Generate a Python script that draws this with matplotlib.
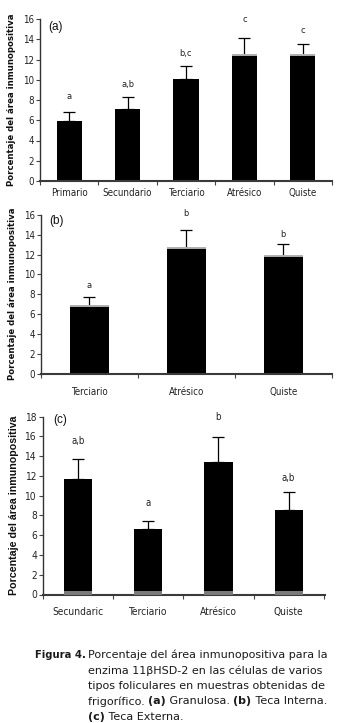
import matplotlib
matplotlib.use("Agg")
import matplotlib.pyplot as plt
from matplotlib import font_manager

# ---------------- data ----------------
cats_a = ["Primario", "Secundario", "Terciario", "Atrésico", "Quiste"]
vals_a = [5.9, 7.15, 10.1, 12.4, 12.4]
err_a = [0.9, 1.15, 1.3, 1.7, 1.1]
sig_a = ["a", "a,b", "b,c", "c", "c"]
sig_pos_a = [8.3, 9.5, 12.6, 16.0, 14.9]

cats_b = ["Terciario", "Atrésico", "Quiste"]
vals_b = [6.8, 12.65, 11.85]
err_b = [0.9, 1.85, 1.25]
sig_b = ["a", "b", "b"]
sig_pos_b = [8.9, 16.2, 14.0]

cats_c = ["Secundaric", "Terciario", "Atrésico", "Quiste"]
vals_c = [11.65, 6.6, 13.45, 8.6]
err_c = [2.05, 0.85, 2.45, 1.75]
sig_c = ["a,b", "a", "b", "a,b"]
sig_pos_c = [15.5, 9.25, 18.0, 11.8]

ylabel = "Porcentaje del área inmunopositiva"

# ---------------- fonts ----------------
_fonts = font_manager.fontManager.ttflist
_names = {f.name for f in _fonts}
if 'Liberation Sans Narrow' in _names:
    NARROW = dict(family=['Liberation Sans Narrow', 'DejaVu Sans'], stretch='normal')
    NARROW_SCALE = 1.0
elif any(f.name == 'DejaVu Sans' and f.stretch == 'condensed' for f in _fonts):
    NARROW = dict(family=['DejaVu Sans'], stretch='condensed')
    NARROW_SCALE = 0.92
else:
    NARROW = dict(family=['Liberation Sans', 'DejaVu Sans'], stretch='normal')
    NARROW_SCALE = 0.86
ARIAL = dict(family=['Liberation Sans', 'DejaVu Sans'], stretch='normal')
if any(f.name == 'DejaVu Sans' and f.stretch == 'condensed' and f.weight in (700, 'bold') for f in _fonts):
    CAPB = dict(family=['DejaVu Sans'], stretch='condensed')
    CAPB_SIZE = 8.0
else:
    CAPB = dict(family=['DejaVu Sans'], stretch='normal')
    CAPB_SIZE = 7.0
CAP = dict(family=['DejaVu Sans'], stretch='normal')

W, H = 338, 723
fig = plt.figure(figsize=(W / 100, H / 100), dpi=100)


def ax_rect(l, r, y0, ytop):
    return [l / W, (H - y0) / H, (r - l) / W, (y0 - ytop) / H]


def panel(rect, cats, vals, errs, sigs, sig_pos, ymax, ystep, xmax, width,
          tag, tagpos, tickf, labf, labsize, labpad, xpad, topcap, botcap,
          ticksize):
    ax = fig.add_axes(rect)
    x = list(range(len(cats)))
    ax.bar(x, vals, width=width, color='black', zorder=2)
    ax.errorbar(x, vals, yerr=[[0] * len(vals), errs], fmt='none',
                ecolor='black', elinewidth=0.9, capsize=4, capthick=0.9, zorder=3)
    if topcap:
        for xi, v, on in zip(x, vals, topcap):
            if on:
                ax.hlines(v, xi - width / 2, xi + width / 2, color='#b0b0b0',
                          lw=1.4, zorder=4)
    if botcap:
        ax.bar(x, [ymax * 0.017] * len(x), width=width, color='#7a7a7a', zorder=4)
    for xi, s, p in zip(x, sigs, sig_pos):
        ax.text(xi, p, s, ha='center', va='center', fontsize=ticksize * 0.95,
                color='#222222', **tickf)
    ax.text(tagpos[0], tagpos[1], tag, ha='center', va='center', fontsize=8.5,
            color='#111111', **ARIAL)
    ax.set_ylim(0, ymax)
    ax.set_xlim(-0.5, xmax)
    ax.set_yticks(range(0, ymax + 1, ystep))
    ax.set_xticks([i + 0.5 for i in range(-1, len(cats))])
    ax.set_xticklabels([])
    ax.set_xticks(x, minor=True)
    ax.set_xticklabels(cats, minor=True)
    ax.tick_params(axis='x', which='minor', length=0, pad=xpad, labelsize=ticksize,
                   labelcolor='#222222')
    ax.tick_params(axis='x', which='major', length=3.2, width=0.8, color='#444444')
    ax.tick_params(axis='y', length=3, width=0.8, color='#444444', pad=1.5,
                   labelsize=ticksize, labelcolor='#222222')
    for lab in ax.get_xticklabels(minor=True) + ax.get_yticklabels():
        lab.set_family(tickf['family'])
        lab.set_fontstretch(tickf['stretch'])
    for s in ('top', 'right'):
        ax.spines[s].set_visible(False)
    ax.spines['left'].set_color('#333333')
    ax.spines['left'].set_linewidth(1.0)
    ax.spines['bottom'].set_color('#3a3a3a')
    ax.spines['bottom'].set_linewidth(1.5)
    ax.set_ylabel(ylabel, fontsize=labsize, fontweight='bold',
                  labelpad=labpad, color='#111111', **labf)
    return ax


ts = 7.6 * NARROW_SCALE
ls = 7.4 * NARROW_SCALE

# (a) Granulosa
panel(ax_rect(40, 332, 181, 19), cats_a, vals_a, err_a, sig_a, sig_pos_a,
      16, 2, 4.5, 0.43, "(a)", (-0.24, 15.2), NARROW, NARROW, ls,
      4.5, 5, [False, False, False, True, True], False, ts)

# (b) Teca Interna
panel(ax_rect(41, 331.7, 373.5, 215), cats_b, vals_b, err_b, sig_b, sig_pos_b,
      16, 2, 2.41, 0.40, "(b)", (-0.34, 15.35), NARROW, NARROW, ls,
      4.5, 10, [True, True, True], False, ts)

# (c) Teca Externa
panel(ax_rect(43.3, 325, 594.5, 416.7), cats_c, vals_c, err_c, sig_c, sig_pos_c,
      18, 2, 3.52, 0.40, "(c)", (-0.26, 17.66), NARROW, ARIAL, 7.7,
      4.5, 9, None, True, ts * 1.05)

# ---------------- caption ----------------
fig.canvas.draw()
renderer = fig.canvas.get_renderer()
csize = 8.0
ccol = '#1a1a1a'
line_y = [655, 670.5, 686, 701.5, 717]
caption_lines = [
    [("Porcentaje del área inmunopositiva para la", 'normal')],
    [("enzima 11βHSD-2 en las células de varios", 'normal')],
    [("tipos foliculares en muestras obtenidas de", 'normal')],
    [("frigorífico. ", 'normal'), ("(a)", 'bold'), (" Granulosa. ", 'normal'),
     ("(b)", 'bold'), (" Teca Interna.", 'normal')],
    [("(c)", 'bold'), (" Teca Externa.", 'normal')],
]
fig.text(35 / W, 1 - line_y[0] / H, "Figura 4.", fontsize=CAPB_SIZE,
         fontweight='bold', va='center', ha='left', color=ccol, **CAPB)
for yy, parts in zip(line_y, caption_lines):
    xpix = 88
    for txt, wt in parts:
        t = fig.text(xpix / W, 1 - yy / H, txt, fontsize=csize,
                     fontweight=wt, va='center', ha='left', color=ccol, **CAP)
        bb = t.get_window_extent(renderer=renderer)
        xpix += bb.width

fig.savefig("out.png", dpi=100)
